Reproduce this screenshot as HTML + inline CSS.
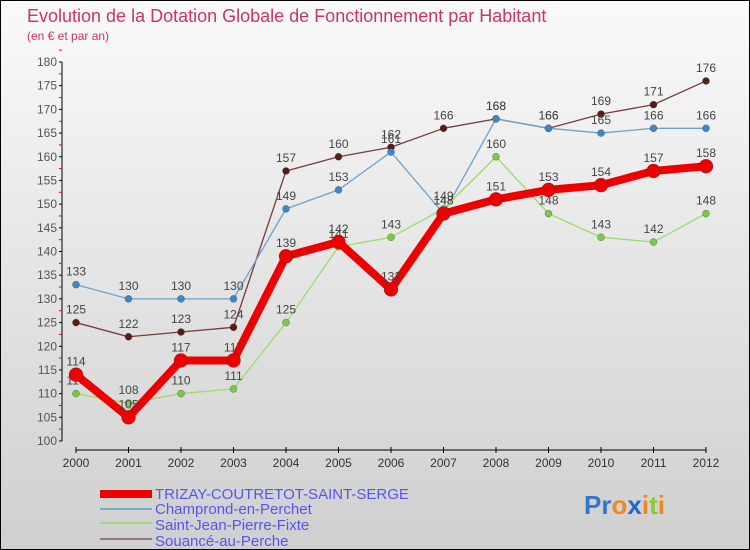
<!DOCTYPE html>
<html><head><meta charset="utf-8"><style>
body{margin:0;}
#wrap{width:748px;height:548px;border:1px solid #000;background:linear-gradient(#fafafa,#cfcfcf);position:relative;overflow:hidden;font-family:"Liberation Sans",sans-serif;}
</style></head><body>
<div id="wrap">
<svg id="chart" width="748" height="548" xmlns="http://www.w3.org/2000/svg">
<text x="26" y="21" font-size="18" fill="#cc3366">Evolution de la Dotation Globale de Fonctionnement par Habitant</text>
<text x="26" y="39" font-size="12" fill="#cc3366">(en € et par an)</text>
<g id="axes"></g><g id="series"></g>
<g>
<rect x="99" y="489" width="52" height="8" fill="#ee0000"/>
<line x1="99" y1="508" x2="151" y2="508" stroke="#7aaed0" stroke-width="2"/>
<line x1="99" y1="522" x2="151" y2="522" stroke="#99dd77" stroke-width="2"/>
<line x1="99" y1="538" x2="151" y2="538" stroke="#997777" stroke-width="2"/>
<text x="154" y="498" font-size="15" fill="#5555ee">TRIZAY-COUTRETOT-SAINT-SERGE</text>
<text x="154" y="513" font-size="15" fill="#5555ee">Champrond-en-Perchet</text>
<text x="154" y="529" font-size="15" fill="#5555ee">Saint-Jean-Pierre-Fixte</text>
<text x="154" y="545" font-size="15" fill="#5555ee">Souancé-au-Perche</text>
</g>
<text x="583" y="513" font-size="26" font-weight="bold"><tspan fill="#3377cc">Pr</tspan><tspan fill="#ee8822">o</tspan><tspan fill="#2266cc">x</tspan><tspan fill="#ee8822">i</tspan><tspan fill="#88cc33">t</tspan><tspan fill="#ee8822">i</tspan></text>
</svg></div>
<script>
const years=[2000,2001,2002,2003,2004,2005,2006,2007,2008,2009,2010,2011,2012];
const yTicks=[100,105,110,115,120,125,130,135,140,145,150,155,160,165,170,175,180];
const trizay=[114,105,117,117,139,142,132,148,151,153,154,157,158];
const champrond=[133,130,130,130,149,153,161,148,168,166,165,166,166];
const saintJean=[110,108,110,111,125,141,143,149,160,148,143,142,148];
const souance=[125,122,123,124,157,160,162,166,168,166,169,171,176];
const NS="http://www.w3.org/2000/svg";
function X(i){return 75+i*52.5;}
function Y(v){return 440-(v-100)*(379/80);}
function mk(t,a,p){const e=document.createElementNS(NS,t);for(const k in a)e.setAttribute(k,a[k]);p.appendChild(e);return e;}
const ax=document.getElementById('axes');
const yl=mk('line',{x1:61,y1:Y(180),x2:61,y2:Y(100),stroke:'#000'},ax);


const xl=mk('line',{x1:X(0),y1:449,x2:X(12),y2:449,stroke:'#000'},ax);


yTicks.forEach(v=>{
  mk('line',{x1:58,y1:Y(v),x2:61,y2:Y(v),stroke:'#000'},ax);
  mk('line',{x1:58,y1:Y(v+2.5),x2:61,y2:Y(v+2.5),stroke:'#e00'},ax);
  const t=mk('text',{x:56,y:Y(v)+4,'font-size':12,fill:'#555','text-anchor':'end'},ax);
  t.textContent=v;
  
  
});
years.forEach((yr,i)=>{
  mk('line',{x1:X(i),y1:446,x2:X(i),y2:452,stroke:'#000'},ax);
  const t=mk('text',{x:X(i),y:466,'font-size':12,fill:'#333','text-anchor':'middle'},ax);
  t.textContent=yr;
  
  
});
const sg=document.getElementById('series');
function draw(data,color,w,r,name,dot){
  const g=mk('g',{},sg);
  
  
  mk('polyline',{points:data.map((v,i)=>X(i)+','+Y(v)).join(' '),fill:'none',stroke:color,'stroke-width':w,'stroke-linejoin':'round'},g);
  data.forEach((v,i)=>{
    const c=mk('circle',{cx:X(i),cy:Y(v),r:r,fill:dot,stroke:'#333','stroke-width':0.3},g);
    
    
    const t=mk('text',{x:X(i),y:Y(v)-9,'font-size':12,fill:'#444','text-anchor':'middle'},g);
    t.textContent=v;
    
    
  });
}
draw(souance,'#7a3a3a',1.3,3.5,'souance','#5a1a1a');
draw(champrond,'#6aa3d0',1.3,3.5,'champrond','#3b88c8');
draw(saintJean,'#99dd66',1.3,3.5,'saint-jean','#77cc44');
draw(trizay,'#ee0000',8,7,'trizay','#ee0000');
</script>
</body></html>
